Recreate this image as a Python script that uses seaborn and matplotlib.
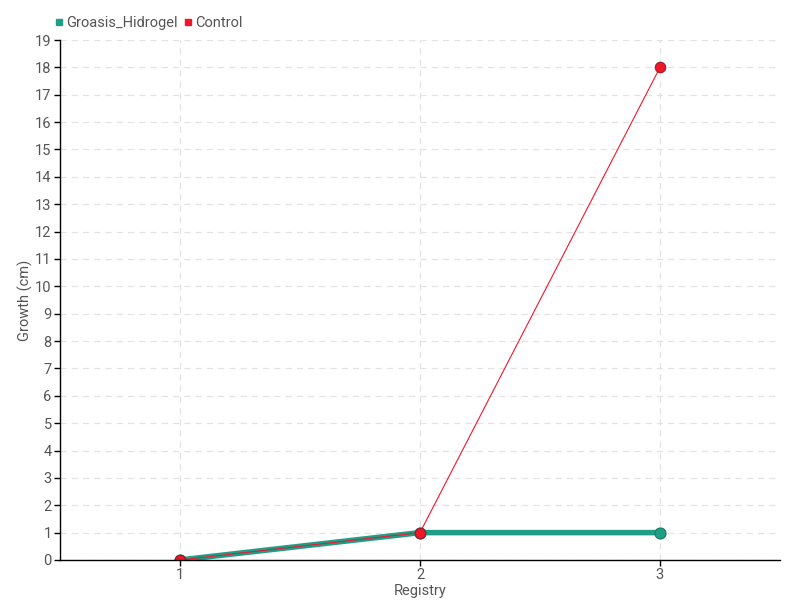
import pandas as pd
import matplotlib.pyplot as plt
import seaborn as sns

# data
registry = [1, 2, 3]
groasis_hidrogel = [0, 1, 1]
control = [0, 1, 18]

series_names = ['Groasis_Hidrogel', 'Control']
colors = {'Groasis_Hidrogel': '#1f9e87', 'Control': '#f0172b'}
edges = {'Groasis_Hidrogel': '#197a68', 'Control': '#9a1a24'}
widths = {'Groasis_Hidrogel': 4.0, 'Control': 0.8}
msizes = {'Groasis_Hidrogel': 8, 'Control': 7.5}

df = pd.DataFrame({
    'Registry': registry * 2,
    'Growth': groasis_hidrogel + control,
    'Series': [series_names[0]] * 3 + [series_names[1]] * 3,
})

sns.set_theme(style='white')
plt.rcParams['font.family'] = ['Liberation Sans Narrow', 'Roboto', 'DejaVu Sans']

fig = plt.figure(figsize=(8, 6), dpi=100)
ax = fig.add_axes([0.075, 0.0667, 0.9, 0.8666])

for name in series_names:
    sub = df[df['Series'] == name]
    sns.lineplot(data=sub, x='Registry', y='Growth', ax=ax,
                 color=colors[name], linewidth=widths[name],
                 marker='o', markersize=msizes[name],
                 markeredgecolor=edges[name], markeredgewidth=0.8,
                 legend=False)

ax.set_xlim(0.5, 3.5)
ax.set_ylim(0, 19)
ax.set_xticks(registry)
ax.set_yticks(range(0, 20))

ax.grid(True, color='#e3e3e3', linestyle=(0, (5, 4)), linewidth=0.9)
ax.set_axisbelow(True)

for s in ['top', 'right']:
    ax.spines[s].set_visible(False)
for s in ['left', 'bottom']:
    ax.spines[s].set_color('black')
    ax.spines[s].set_linewidth(1)

ax.tick_params(axis='both', which='both', direction='out', length=4,
               width=1, colors='black', labelcolor='#555555', labelsize=10.5,
               left=True, bottom=True, pad=2)

ax.set_xlabel('Registry', color='#555555', fontsize=10.5, labelpad=1)
ax.set_ylabel('Growth (cm)', color='#555555', fontsize=10.5)
ax.yaxis.set_label_coords(-0.038, 0.5)

handles = [plt.Line2D([], [], marker='s', linestyle='none', markersize=5,
                      color=colors[n]) for n in series_names]
fig.legend(handles, series_names, loc='upper left',
           bbox_to_anchor=(0.052, 0.995), ncol=2, frameon=False,
           handlelength=0.6, handletextpad=0.2, columnspacing=0.4,
           labelcolor='#555555', fontsize=10.5)

fig.savefig('out.png', dpi=100)
